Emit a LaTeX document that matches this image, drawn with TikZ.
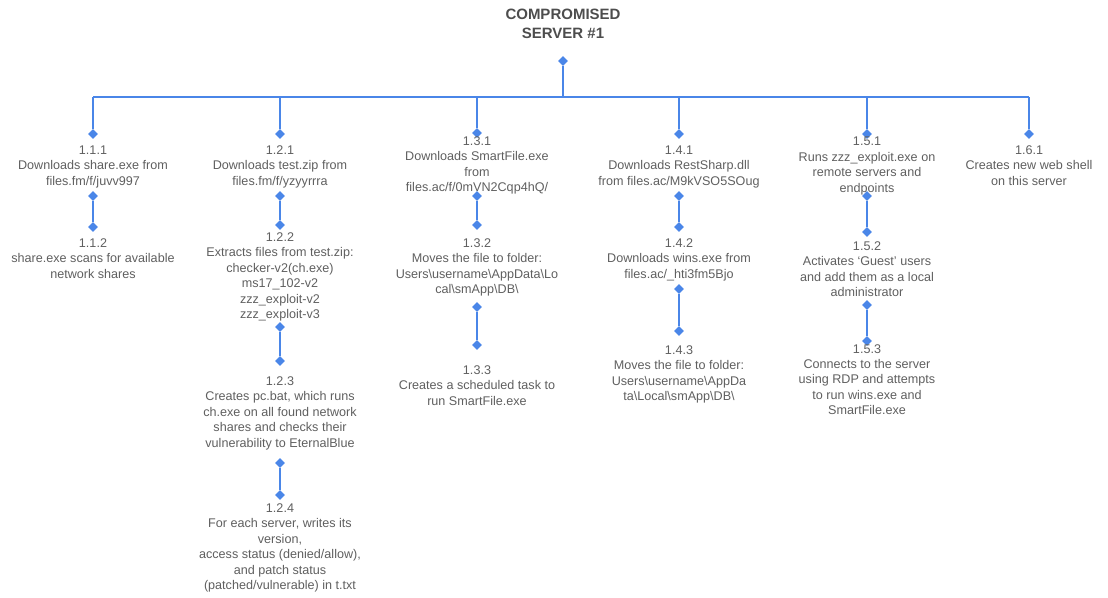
\documentclass[tikz,border=0pt]{standalone}
\usepackage{fontspec}
\setmainfont{Liberation Sans}
\usetikzlibrary{shapes.geometric}
\definecolor{blu}{HTML}{4A86E8}
\definecolor{txt}{HTML}{5F5F5F}
\definecolor{ttl}{HTML}{4D4D4D}
\tikzset{
  dia/.style={diamond, fill=blu, inner sep=0pt, minimum size=10pt},
  lnk/.style={draw=blu, line width=1.5pt},
  lbl/.style={align=center, inner sep=0pt, anchor=north, text=txt, font=\fontsize{12.6}{15.4}\selectfont},
  ttlstyle/.style={align=center, inner sep=0pt, anchor=north, text=ttl, font=\bfseries\fontsize{15}{19}\selectfont},
}
\newcommand{\bs}{\textbackslash}
\begin{document}
\begin{tikzpicture}[x=1pt,y=-1pt]
\useasboundingbox (0,0) rectangle (1108,597);
% title
\node[ttlstyle] (title) at (563,8.5) {COMPROMISED\\SERVER \#1};
\node[dia] (top) at (563,61) {};
% bar coordinates
\coordinate (b1) at (93,97);
\coordinate (b2) at (280,97);
\coordinate (b3) at (477,97);
\coordinate (b4) at (679,97);
\coordinate (b5) at (867,97);
\coordinate (b6) at (1029,97);
% diamonds
\node[dia] (d11a) at (93,134) {};
\node[dia] (d11b) at (93,196) {};
\node[dia] (d11c) at (93,227) {};
\node[dia] (d12a) at (280,134) {};
\node[dia] (d12b) at (280,196) {};
\node[dia] (d12c) at (280,225) {};
\node[dia] (d12d) at (280,327) {};
\node[dia] (d12e) at (280,361) {};
\node[dia] (d12f) at (280,463) {};
\node[dia] (d12g) at (280,495) {};
\node[dia] (d13a) at (477,133) {};
\node[dia] (d13b) at (477,196) {};
\node[dia] (d13c) at (477,225) {};
\node[dia] (d13d) at (477,307) {};
\node[dia] (d13e) at (477,345) {};
\node[dia] (d14a) at (679,134) {};
\node[dia] (d14b) at (679,196) {};
\node[dia] (d14c) at (679,227) {};
\node[dia] (d14d) at (679,289) {};
\node[dia] (d14e) at (679,331) {};
\node[dia] (d15a) at (867,134) {};
\node[dia] (d15b) at (867,196) {};
\node[dia] (d15c) at (867,232) {};
\node[dia] (d15d) at (867,305) {};
\node[dia] (d15e) at (867,341) {};
\node[dia] (d16a) at (1029,134) {};
% connectors
\draw[lnk] (b1) -- (b6);
\draw[lnk] (top) -- (top |- b1);
\draw[lnk] (b1) -- (d11a);
\draw[lnk] (b2) -- (d12a);
\draw[lnk] (b3) -- (d13a);
\draw[lnk] (b4) -- (d14a);
\draw[lnk] (b5) -- (d15a);
\draw[lnk] (b6) -- (d16a);
\draw[lnk] (d11b) -- (d11c);
\draw[lnk] (d12b) -- (d12c);
\draw[lnk] (d12d) -- (d12e);
\draw[lnk] (d12f) -- (d12g);
\draw[lnk] (d13b) -- (d13c);
\draw[lnk] (d13d) -- (d13e);
\draw[lnk] (d14b) -- (d14c);
\draw[lnk] (d14d) -- (d14e);
\draw[lnk] (d15b) -- (d15c);
\draw[lnk] (d15d) -- (d15e);
% labels
\node[lbl] (t111) at (93,145.5) {1.1.1\\Downloads share.exe from\\files.fm/f/juvv997};
\node[lbl] (t112) at (93,238.5) {1.1.2\\share.exe scans for available\\network shares};
\node[lbl] (t121) at (280,145.5) {1.2.1\\Downloads test.zip from\\files.fm/f/yzyyrrra};
\node[lbl] (t122) at (280,232.5) {1.2.2\\Extracts files from test.zip:\\checker-v2(ch.exe)\\ms17\_102-v2\\zzz\_exploit-v2\\zzz\_exploit-v3};
\node[lbl] (t123) at (280,376.5) {1.2.3\\Creates pc.bat, which runs\\ch.exe on all found network\\shares and checks their\\vulnerability to EternalBlue};
\node[lbl] (t124) at (280,503.5) {1.2.4\\For each server, writes its\\version,\\access status (denied/allow),\\and patch status\\(patched/vulnerable) in t.txt};
\node[lbl] (t131) at (477,136.5) {1.3.1\\Downloads SmartFile.exe\\from\\files.ac/f/0mVN2Cqp4hQ/};
\node[lbl] (t132) at (477,238.5) {1.3.2\\Moves the file to folder:\\Users\bs username\bs AppData\bs Lo\\cal\bs smApp\bs DB\bs};
\node[lbl] (t133) at (477,365.5) {1.3.3\\Creates a scheduled task to\\run SmartFile.exe};
\node[lbl] (t141) at (679,145.5) {1.4.1\\Downloads RestSharp.dll\\from files.ac/M9kVSO5SOug};
\node[lbl] (t142) at (679,238.5) {1.4.2\\Downloads wins.exe from\\files.ac/\_hti3fm5Bjo};
\node[lbl] (t143) at (679,345.5) {1.4.3\\Moves the file to folder:\\Users\bs username\bs AppDa\\ta\bs Local\bs smApp\bs DB\bs};
\node[lbl] (t151) at (867,137) {1.5.1\\Runs zzz\_exploit.exe on\\remote servers and\\endpoints};
\node[lbl] (t152) at (867,241.5) {1.5.2\\Activates ‘Guest’ users\\and add them as a local\\administrator};
\node[lbl] (t153) at (867,344) {1.5.3\\Connects to the server\\using RDP and attempts\\to run wins.exe and\\SmartFile.exe};
\node[lbl] (t161) at (1029,145.5) {1.6.1\\Creates new web shell\\on this server};
\end{tikzpicture}
\end{document}
